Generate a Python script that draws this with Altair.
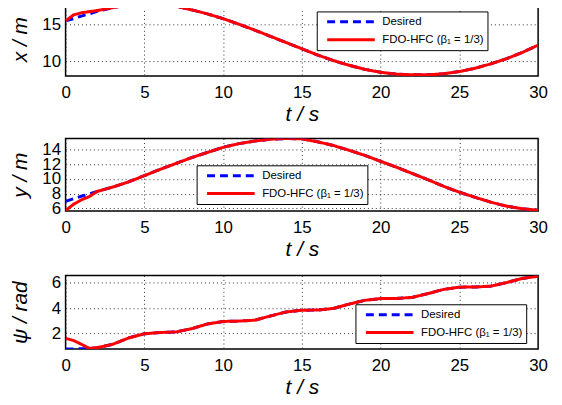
import altair as alt
import pandas as pd

# ---- data ----
t = [0, 0.5, 1, 1.5, 2, 3, 4, 5, 6, 7, 8, 9, 10, 11, 12, 13, 14, 15,
     16, 17, 18, 19, 20, 21, 22, 23, 24, 25, 26, 27, 28, 29, 30]

x_act = [15.5, 16.3, 16.6, 16.75, 16.9, 17.3, 17.7, 17.9, 17.85, 17.5, 17.0,
         16.45, 15.8, 15.05, 14.25, 13.4, 12.55, 11.7, 10.85, 10.1, 9.45, 8.9,
         8.5, 8.25, 8.15, 8.15, 8.3, 8.6, 9.05, 9.65, 10.35, 11.2, 12.2]
x_des = [15.5, 15.8, 16.15, 16.45, 16.8] + x_act[5:]

y_act = [5.7, 6.55, 7.15, 7.6, 8.3, 8.9, 9.6, 10.45, 11.3, 12.1, 12.9, 13.6,
         14.3, 14.8, 15.15, 15.4, 15.5, 15.45, 15.05, 14.55, 13.9, 13.2, 12.4,
         11.6, 10.75, 9.9, 9.0, 8.2, 7.5, 6.85, 6.3, 5.95, 5.75]
y_des = [6.95, 7.3, 7.65, 7.95, 8.3] + y_act[5:]

psi_act = [1.62, 1.45, 1.15, 0.83, 0.88, 1.15, 1.65, 1.98, 2.08, 2.12, 2.38,
           2.75, 2.95, 2.98, 3.05, 3.38, 3.7, 3.84, 3.85, 3.98, 4.32, 4.62,
           4.76, 4.77, 4.85, 5.15, 5.48, 5.66, 5.67, 5.74, 6.02, 6.35, 6.52]
psi_des = [0.785, 0.785, 0.79, 0.8, 0.88] + psi_act[5:]

series = ["Desired", "FDO-HFC (β\u2081 = 1/3)"]
x_ticks = [0, 5, 10, 15, 20, 25, 30]

FONT = "Liberation Sans"
W = 476


def frame(act, des):
    rows = []
    for ti, d in zip(t, des):
        rows.append({"t": ti, "v": d, "s": series[0]})
    for ti, a in zip(t, act):
        rows.append({"t": ti, "v": a, "s": series[1]})
    return pd.DataFrame(rows)


def panel(act, des, ytitle, ydomain, yticks, lx, ly, h):
    df = frame(act, des)
    legend = alt.Legend(
        orient="none", legendX=lx, legendY=ly, title=None,
        symbolType="stroke", symbolSize=2300, symbolStrokeWidth=3,
        symbolOffset=6, clipHeight=15,
        labelFont=FONT, labelFontSize=11.5, labelColor="black",
        strokeColor="black", fillColor="white", padding=3,
        rowPadding=3, labelOffset=6, cornerRadius=0,
    )
    color = alt.Color("s:N", scale=alt.Scale(domain=series, range=["#0000ff", "#ff0000"]),
                      legend=legend)
    dash = alt.StrokeDash("s:N", scale=alt.Scale(domain=series, range=[[8, 5], [1, 0]]),
                          legend=legend)
    xenc = alt.X("t:Q", scale=alt.Scale(domain=[0, 30], nice=False),
                 axis=alt.Axis(values=x_ticks, title="t / s", titleFont=FONT,
                               titleFontStyle="italic", titleFontWeight="normal",
                               titleFontSize=21, titleY=39, titleBaseline="middle",
                               labelFont=FONT, labelFontSize=17, labelPadding=9,
                               labelColor="black", titleColor="black",
                               domain=False, ticks=False, labelFlush=False,
                               grid=True, gridDash=[1, 3], gridColor="#333",
                               gridWidth=1))
    yenc = alt.Y("v:Q", scale=alt.Scale(domain=ydomain, nice=False, zero=False),
                 axis=alt.Axis(values=yticks, title=ytitle, titleFont=FONT,
                               titleFontStyle="italic", titleFontWeight="normal",
                               titleFontSize=21, titleX=-45, titleY=h / 2,
                               titleAlign="center", titleBaseline="middle",
                               titleAngle=-90, titleColor="black",
                               labelFont=FONT, labelFontSize=17, labelPadding=5,
                               labelColor="black", labelOverlap=False,
                               labelFlush=False,
                               domain=False, ticks=False, grid=True,
                               gridDash=[1, 3], gridColor="#333", gridWidth=1))
    base = alt.Chart(df).encode(x=xenc, y=yenc, color=color, strokeDash=dash)
    blue = base.transform_filter(alt.datum.s == series[0]).mark_line(strokeWidth=3, clip=True)
    red = base.transform_filter(alt.datum.s == series[1]).mark_line(strokeWidth=3, clip=True)
    return alt.layer(blue, red).properties(width=W, height=h)


p1 = panel(x_act, x_des, "x / m", [8, 18], [10, 15], 253, 9, 74)
p2 = panel(y_act, y_des, "y / m", [5.65, 15.5], [6, 8, 10, 12, 14], 132, 27, 73)
p3 = panel(psi_act, psi_des, "ψ / rad", [0.78, 6.58], [2, 4, 6], 292, 29, 74)

chart = (
    alt.vconcat(p1, p2, p3, spacing=12)
    .resolve_scale(color="independent", strokeDash="independent")
    .resolve_legend(color="independent", strokeDash="independent")
    .properties(padding={"left": 1, "top": -8, "right": 5, "bottom": 5})
    .configure(background="white", font=FONT)
    .configure_view(stroke="black", strokeWidth=1.5)
)

chart.save("out.html", embed_options={"renderer": "svg", "actions": False})
